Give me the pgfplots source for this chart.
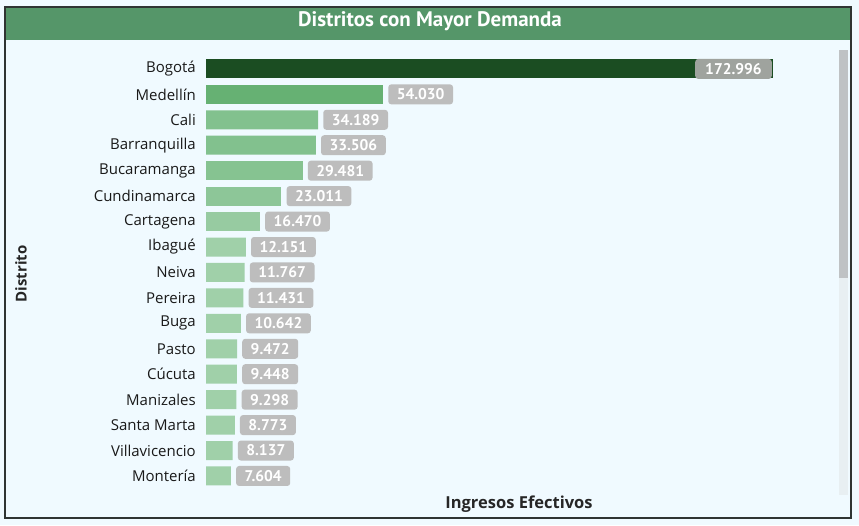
\documentclass[border=0pt]{standalone}
\usepackage{pgfplots}
\pgfplotsset{compat=1.18}
\usepackage{fontspec}
\setmainfont{Open Sans}
\newfontfamily\ptsans{PT Sans}
\definecolor{bg}{HTML}{F0FAFF}
\definecolor{titlegreen}{HTML}{559669}
\definecolor{framecol}{HTML}{2F3432}
\definecolor{cA}{HTML}{1B4D22}
\definecolor{cB}{HTML}{66B173}
\definecolor{cC}{HTML}{82C18E}
\definecolor{cD}{HTML}{86C391}
\definecolor{cE}{HTML}{8DC698}
\definecolor{cF}{HTML}{97CBA1}
\definecolor{cG}{HTML}{A0D0A9}
\definecolor{lblgray}{HTML}{BDBDBD}
\definecolor{lbldark}{HTML}{9FA39E}
\definecolor{thumb}{HTML}{BFC2C4}
\definecolor{track}{HTML}{E8EFF2}
\begin{document}
\begin{tikzpicture}[x=1pt,y=1pt]
\fill[bg] (0,0) rectangle (859,525);
\useasboundingbox (0,0) rectangle (859,525);
\fill[titlegreen] (5,485) rectangle (851,518);
\draw[line width=1.5pt, framecol] (5,7) rectangle (851,518);
\node[text=white, font=\ptsans\bfseries\fontsize{21}{21}\selectfont] at (430,504) {Distritos con Mayor Demanda};
\fill[track] (839,30) rectangle (848,247);
\fill[thumb] (839,247) rectangle (848,475);
\node[rotate=90, font=\bfseries\fontsize{15}{15}\selectfont, text=black!85] at (21,251) {Distrito};
\node[font=\bfseries\fontsize{16.5}{16.5}\selectfont, text=black!85] at (519,21) {Ingresos Efectivos};
\begin{axis}[
  at={(206pt,36.3pt)}, anchor=south west,
  scale only axis, width=622.7pt, height=432.5pt,
  xmin=0, xmax=190000, ymin=-0.5, ymax=16.5, y dir=reverse,
  axis line style={draw=none}, xtick=\empty,
  ytick={0,...,16}, major tick length=0pt,
  yticklabels={Bogotá,Medellín,Cali,Barranquilla,Bucaramanga,Cundinamarca,Cartagena,Ibagué,Neiva,Pereira,Buga,Pasto,Cúcuta,Manizales,Santa Marta,Villavicencio,Montería},
  yticklabel style={inner sep=0pt, xshift=-10pt, anchor=east, font=\fontsize{15}{15}\selectfont, text=black!90},
  clip=false, xbar,
  point meta=explicit symbolic,
  nodes near coords,
  every node near coord/.append style={fill=lblgray, text=white, rounded corners=3pt, font=\ptsans\bfseries\fontsize{15.5}{15.5}\selectfont, inner xsep=8.5pt, inner ysep=0pt, minimum height=20pt, anchor=west, xshift=5pt},
]
\addplot[fill=cA, draw=none, bar width=19pt, bar shift=0pt, every node near coord/.append style={fill=lbldark, anchor=east, xshift=-6pt, inner xsep=10pt}] coordinates {(172996,0) [172.996]};
\addplot[fill=cB, draw=none, bar width=19pt, bar shift=0pt] coordinates {(54030,1) [54.030]};
\addplot[fill=cC, draw=none, bar width=19pt, bar shift=0pt] coordinates {(34189,2) [34.189] (33506,3) [33.506]};
\addplot[fill=cD, draw=none, bar width=19pt, bar shift=0pt] coordinates {(29481,4) [29.481]};
\addplot[fill=cE, draw=none, bar width=19pt, bar shift=0pt] coordinates {(23011,5) [23.011]};
\addplot[fill=cF, draw=none, bar width=19pt, bar shift=0pt] coordinates {(16470,6) [16.470]};
\addplot[fill=cG, draw=none, bar width=19pt, bar shift=0pt] coordinates {(12151,7) [12.151] (11767,8) [11.767] (11431,9) [11.431] (10642,10) [10.642] (9472,11) [9.472] (9448,12) [9.448] (9298,13) [9.298] (8773,14) [8.773] (8137,15) [8.137] (7604,16) [7.604]};
\end{axis}
\end{tikzpicture}
\end{document}
